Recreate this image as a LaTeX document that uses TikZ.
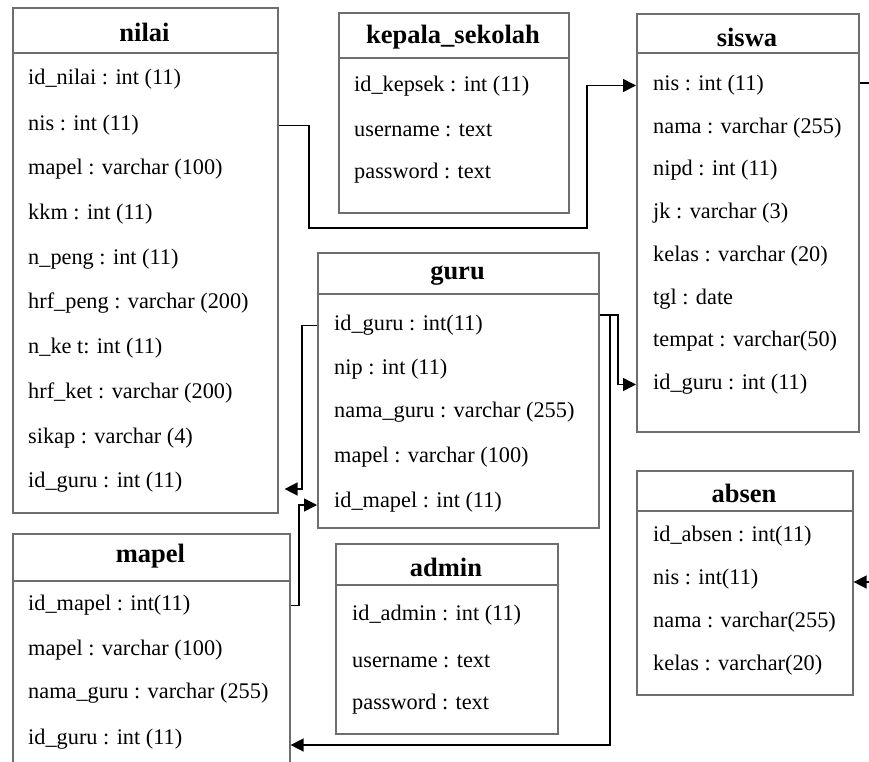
\documentclass[tikz,border=0pt]{standalone}
\usepackage{fontspec}
\setmainfont{Liberation Serif}
\usetikzlibrary{arrows.meta}
\definecolor{boxgray}{HTML}{6E6E6E}
\tikzset{
  tbl/.style={draw=boxgray, line width=1.6pt, anchor=north west, inner sep=0pt},
  ttl/.style={font=\fontsize{26.5}{31}\selectfont\bfseries, anchor=center, inner sep=0pt},
  row/.style={font=\fontsize{22.3}{27}\selectfont, anchor=west, inner sep=0pt, yshift=-1.5pt},
  sepline/.style={draw=boxgray, line width=1.6pt},
  link/.style={draw=black, line width=1.5pt},
  arr/.style={link, -{Triangle[length=13pt,width=13pt]}}
}
\begin{document}
\begin{tikzpicture}[x=1pt,y=-1pt]
\useasboundingbox (0,0) rectangle (869,762);

% ---------- nilai ----------
\node[tbl, minimum width=265pt, minimum height=505pt] (nilai) at (12,7) {};
\coordinate (nilai-sep) at (12,53);
\draw[sepline] (nilai-sep) -- (nilai.east |- nilai-sep);
\node[ttl] (nilai-t) at (144.5,32) {nilai};
\node[row] (nilai-r1) at (28,78) {id\_nilai : int (11)};
\node[row] (nilai-r2) at (28,124) {nis : int (11)};
\node[row] (nilai-r3) at (28,168) {mapel : varchar (100)};
\node[row] (nilai-r4) at (28,213) {kkm : int (11)};
\node[row] (nilai-r5) at (28,258) {n\_peng : int (11)};
\node[row] (nilai-r6) at (28,302) {hrf\_peng : varchar (200)};
\node[row] (nilai-r7) at (28,347) {n\_ke t: int (11)};
\node[row] (nilai-r8) at (28,392) {hrf\_ket : varchar (200)};
\node[row] (nilai-r9) at (28,437) {sikap : varchar (4)};
\node[row] (nilai-r10) at (28,481) {id\_guru : int (11)};

% ---------- kepala_sekolah ----------
\node[tbl, minimum width=230pt, minimum height=200pt] (kepsek) at (338,12) {};
\coordinate (kepsek-sep) at (338,58);
\draw[sepline] (kepsek-sep) -- (kepsek.east |- kepsek-sep);
\node[ttl] (kepsek-t) at (453,37) {kepala\_sekolah};
\node[row] (kepsek-r1) at (354,85) {id\_kepsek : int (11)};
\node[row] (kepsek-r2) at (354,129) {username : text};
\node[row] (kepsek-r3) at (354,172) {password : text};

% ---------- siswa ----------
\node[tbl, minimum width=222pt, minimum height=418pt] (siswa) at (636,13) {};
\coordinate (siswa-sep) at (636,53);
\draw[sepline] (siswa-sep) -- (siswa.east |- siswa-sep);
\node[ttl] (siswa-t) at (747,37) {siswa};
\node[row] (siswa-r1) at (653,84) {nis : int (11)};
\node[row] (siswa-r2) at (653,127) {nama : varchar (255)};
\node[row] (siswa-r3) at (653,169) {nipd : int (11)};
\node[row] (siswa-r4) at (653,212) {jk : varchar (3)};
\node[row] (siswa-r5) at (653,255) {kelas : varchar (20)};
\node[row] (siswa-r6) at (653,298) {tgl : date};
\node[row] (siswa-r7) at (653,340) {tempat : varchar(50)};
\node[row] (siswa-r8) at (653,383) {id\_guru : int (11)};

% ---------- guru ----------
\node[tbl, minimum width=281pt, minimum height=275pt] (guru) at (317,252) {};
\coordinate (guru-sep) at (317,294);
\draw[sepline] (guru-sep) -- (guru.east |- guru-sep);
\node[ttl] (guru-t) at (457.5,276) {guru};
\node[row] (guru-r1) at (334,324) {id\_guru : int(11)};
\node[row] (guru-r2) at (334,368) {nip : int (11)};
\node[row] (guru-r3) at (334,411) {nama\_guru : varchar (255)};
\node[row] (guru-r4) at (334,456) {mapel : varchar (100)};
\node[row] (guru-r5) at (334,501) {id\_mapel : int (11)};

% ---------- mapel (runs past the lower edge) ----------
\node[tbl, minimum width=277pt, minimum height=260pt] (mapel) at (12,533) {};
\coordinate (mapel-sep) at (12,581);
\draw[sepline] (mapel-sep) -- (mapel.east |- mapel-sep);
\node[ttl] (mapel-t) at (150.5,556) {mapel};
\node[row] (mapel-r1) at (28,604) {id\_mapel : int(11)};
\node[row] (mapel-r2) at (28,649) {mapel : varchar (100)};
\node[row] (mapel-r3) at (28,692) {nama\_guru : varchar (255)};
\node[row] (mapel-r4) at (28,738) {id\_guru : int (11)};

% ---------- admin ----------
\node[tbl, minimum width=222pt, minimum height=190pt] (admin) at (335,543) {};
\coordinate (admin-sep) at (335,585);
\draw[sepline] (admin-sep) -- (admin.east |- admin-sep);
\node[ttl] (admin-t) at (446,567) {admin};
\node[row] (admin-r1) at (352,614) {id\_admin : int (11)};
\node[row] (admin-r2) at (352,660) {username : text};
\node[row] (admin-r3) at (352,703) {password : text};

% ---------- absen ----------
\node[tbl, minimum width=216pt, minimum height=224pt] (absen) at (636,470) {};
\coordinate (absen-sep) at (636,511);
\draw[sepline] (absen-sep) -- (absen.east |- absen-sep);
\node[ttl] (absen-t) at (744,493) {absen};
\node[row] (absen-r1) at (653,535) {id\_absen : int(11)};
\node[row] (absen-r2) at (653,578) {nis : int(11)};
\node[row] (absen-r3) at (653,621) {nama : varchar(255)};
\node[row] (absen-r4) at (653,664) {kelas : varchar(20)};

% ---------- relations ----------
% nilai.nis -> siswa.nis, routed under kepala_sekolah
\coordinate (nk1) at (309,0);
\coordinate (nk2) at (587,228);
\draw[arr] (nilai.east |- nilai-r2) -| (nk1 |- nk2) -| (nk2 |- siswa-r1) -- (siswa.west |- siswa-r1);

% guru.id_guru -> siswa.id_guru
\coordinate (gs) at (618,315);
\draw[arr] (guru.east |- gs) -| (gs |- siswa-r8) -- (siswa.west |- siswa-r8);

% guru.id_guru -> mapel.id_guru
\coordinate (gm) at (610,745);
\draw[arr] (guru.east |- gs) -| (gm) -- (mapel.east |- gm);

% guru.id_guru -> nilai.id_guru
\coordinate (gn) at (302,489);
\draw[arr] (guru.west |- guru-r1) -| (gn) -- ([xshift=6pt]nilai.east |- gn);

% mapel.id_mapel -> guru.id_mapel
\coordinate (mg) at (299,505);
\draw[arr] (mapel.east |- mapel-r1) -| (mg) -- (guru.west |- mg);

% siswa.nis -> absen.nis, routed beyond the right edge
\coordinate (sa) at (885,83);
\coordinate (sb) at (885,582);
\draw[arr] (siswa.east |- sa) -- (sa) -- (sb) -- (absen.east |- sb);
\end{tikzpicture}
\end{document}
